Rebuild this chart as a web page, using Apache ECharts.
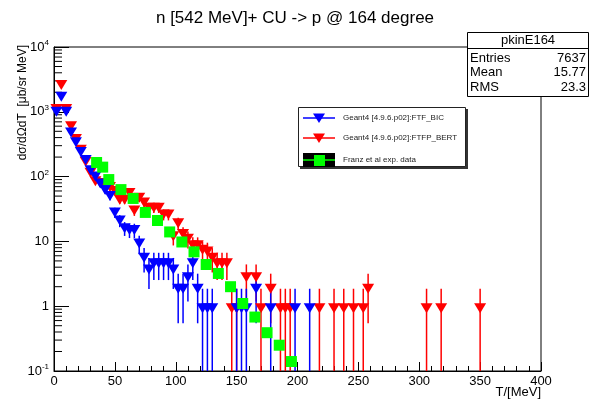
<!DOCTYPE html>
<html>
<head>
<meta charset="utf-8">
<script src="https://cdn.jsdelivr.net/npm/echarts@6/dist/echarts.min.js"></script>
<style>
  html, body { margin: 0; padding: 0; background: #fff; }
  #chart { width: 590px; height: 401px; }
</style>
</head>
<body>
<div id="chart"></div>
<script>
// Geant4 FTF_BIC, [T (MeV), dsigma/dOmega dT]
const ftfBic = [
  [2, 1000], [6, 1700], [10, 1000], [14, 480], [18, 340], [22, 240], [26, 180],
  [30, 125], [34, 100], [38, 78], [42, 62], [46, 50], [50, 28], [54, 21],
  [58, 16], [62, 15], [66, 15], [70, 9.3], [74, 5.6], [78, 3.7], [82, 4.6],
  [86, 4.6], [90, 4.6], [94, 4.6], [98, 3.7], [102, 1.86], [106, 1.86],
  [110, 2.8], [114, 4.6], [118, 1.86], [122, 0.93], [126, 0.93], [130, 0.93],
  [150, 0.93], [154, 0.93], [158, 0.93], [166, 1.86], [178, 0.93],
  [198, 0.93], [210, 0.93]
];
// Geant4 FTFP_BERT
const ftfpBert = [
  [2, 1100], [6, 2600], [10, 1100], [14, 600], [18, 380], [22, 260], [26, 170],
  [30, 115], [34, 85], [38, 80], [42, 72], [46, 69], [50, 60], [54, 44],
  [58, 44], [62, 56], [66, 30], [70, 47], [74, 40], [78, 33], [82, 33],
  [86, 33], [90, 26], [94, 26], [98, 12], [102, 19], [106, 13], [110, 11],
  [114, 8.7], [118, 8.7], [122, 7.4], [126, 7], [130, 5.6], [134, 4.6],
  [138, 4.6], [142, 4.6], [146, 0.93], [150, 0.93], [158, 2.8], [166, 2.8],
  [170, 0.93], [178, 1.86], [186, 0.93], [190, 0.93], [194, 0.93],
  [218, 0.93], [230, 0.93], [238, 0.93], [246, 0.93], [254, 0.93],
  [258, 1.86], [306, 0.93], [318, 0.93], [350, 0.93]
];
// Franz et al. experimental data
const franz = [
  [35, 165], [40, 140], [45, 90], [55, 63], [65, 46], [75, 28], [85, 21],
  [95, 14], [105, 9.8], [115, 6.9], [125, 4.4], [135, 3.2], [145, 2.0],
  [155, 1.1], [165, 0.68], [175, 0.39], [185, 0.25], [195, 0.14]
];

// weight of one histogram entry (for the statistical error bars)
const UNIT = 0.93;
const Y_MIN = 0.1, Y_MAX = 10000;
const FONT = 'Liberation Sans, Arial, sans-serif';

// 2..9 x 10^k minor ticks of the log axis
const yMinorTicks = [];
for (let k = -1; k < 4; k++) {
  for (let m = 2; m < 10; m++) yMinorTicks.push([0, m * Math.pow(10, k)]);
}

function errorBars(color) {
  return function (params, api) {
    const t = api.value(0), v = api.value(1);
    const e = Math.sqrt(v * UNIT);
    const hi = api.coord([t, v + e]);
    const lo = api.coord([t, Math.max(v - e, Y_MIN)]);
    return {
      type: 'line',
      shape: { x1: hi[0], y1: hi[1], x2: lo[0], y2: lo[1] },
      style: { stroke: color, lineWidth: 1.5 }
    };
  };
}

function minorTick(params, api) {
  const p = api.coord([api.value(0), api.value(1)]);
  return {
    type: 'line',
    shape: { x1: p[0], y1: p[1], x2: p[0] + 8, y2: p[1] },
    style: { stroke: '#000', lineWidth: 1 }
  };
}

const chartDom = document.getElementById('chart');
const myChart = echarts.init(chartDom);

const option = {
  animation: false,
  title: {
    text: 'n [542 MeV]+ CU -> p @ 164 degree',
    left: 'center',
    top: 5,
    textStyle: { fontFamily: FONT, fontSize: 17, fontWeight: 'normal', color: '#000' }
  },
  grid: {
    left: 54, right: 49, top: 47, bottom: 30,
    show: true, borderColor: '#000', borderWidth: 1
  },
  xAxis: {
    type: 'value',
    min: 0, max: 400, interval: 50,
    axisLine: { lineStyle: { color: '#000' } },
    axisTick: { inside: true, length: 9, lineStyle: { color: '#000' } },
    minorTick: { show: true, splitNumber: 5, length: 5, lineStyle: { color: '#000' } },
    splitLine: { show: false },
    axisLabel: { color: '#000', fontFamily: FONT, fontSize: 13, margin: 4 }
  },
  yAxis: {
    type: 'log', logBase: 10,
    min: Y_MIN, max: Y_MAX, interval: 1,
    axisLine: { lineStyle: { color: '#000' } },
    axisTick: { inside: true, length: 15, lineStyle: { color: '#000' } },
    splitLine: { show: false },
    axisLabel: {
      color: '#000', fontFamily: FONT, fontSize: 13, margin: 5,
      formatter: function (v) {
        const k = Math.round(Math.log10(v));
        if (k === 0) return '1';
        if (k === 1) return '10';
        return '{b|10}{s|' + k + '}';
      },
      rich: {
        b: { fontFamily: FONT, fontSize: 13, color: '#000', lineHeight: 16 },
        s: { fontFamily: FONT, fontSize: 8, color: '#000', verticalAlign: 'top', lineHeight: 16, padding: [0, 0, 6, 0] }
      }
    }
  },
  graphic: [
    // y axis title
    {
      type: 'text', x: 23, y: 45, rotation: Math.PI / 2,
      style: { text: 'dσ/dΩdT  [μb/sr MeV]', font: '12px ' + FONT, fill: '#000', align: 'right', verticalAlign: 'middle' }
    },
    // x axis title
    {
      type: 'text', x: 541, y: 392,
      style: { text: 'T/[MeV]', font: '13px ' + FONT, fill: '#000', align: 'right', verticalAlign: 'middle' }
    },
    // stats box
    {
      type: 'rect', shape: { x: 467.5, y: 32.5, width: 121, height: 64 },
      style: { fill: '#fff', stroke: '#000', lineWidth: 1 }, z: 100
    },
    {
      type: 'line', shape: { x1: 467.5, y1: 48.5, x2: 588.5, y2: 48.5 },
      style: { stroke: '#000', lineWidth: 1 }, z: 101
    },
    { type: 'text', x: 528, y: 40, z: 101, style: { text: 'pkinE164', font: '13px ' + FONT, fill: '#000', align: 'center', verticalAlign: 'middle' } },
    { type: 'text', x: 470, y: 58, z: 101, style: { text: 'Entries', font: '13px ' + FONT, fill: '#000', align: 'left', verticalAlign: 'middle' } },
    { type: 'text', x: 586, y: 58, z: 101, style: { text: '7637', font: '13px ' + FONT, fill: '#000', align: 'right', verticalAlign: 'middle' } },
    { type: 'text', x: 470, y: 72, z: 101, style: { text: 'Mean', font: '13px ' + FONT, fill: '#000', align: 'left', verticalAlign: 'middle' } },
    { type: 'text', x: 586, y: 72, z: 101, style: { text: '15.77', font: '13px ' + FONT, fill: '#000', align: 'right', verticalAlign: 'middle' } },
    { type: 'text', x: 470, y: 87, z: 101, style: { text: 'RMS', font: '13px ' + FONT, fill: '#000', align: 'left', verticalAlign: 'middle' } },
    { type: 'text', x: 586, y: 87, z: 101, style: { text: '23.3', font: '13px ' + FONT, fill: '#000', align: 'right', verticalAlign: 'middle' } },
    // legend box with shadow
    {
      type: 'rect', shape: { x: 300, y: 109, width: 168, height: 60 },
      style: { fill: '#333' }, z: 100
    },
    {
      type: 'rect', shape: { x: 298.5, y: 107.5, width: 167, height: 59 },
      style: { fill: '#fff', stroke: '#222', lineWidth: 1 }, z: 101
    },
    // FTF_BIC entry
    { type: 'line', shape: { x1: 303, y1: 118, x2: 335, y2: 118 }, style: { stroke: '#0000ff', lineWidth: 1.5 }, z: 102 },
    { type: 'polygon', shape: { points: [[313, 113.5], [325, 113.5], [319, 123]] }, style: { fill: '#0000ff' }, z: 102 },
    { type: 'text', x: 343, y: 118, z: 102, style: { text: 'Geant4 [4.9.6.p02]:FTF_BIC', font: '8px ' + FONT, fill: '#222', align: 'left', verticalAlign: 'middle' } },
    // FTFP_BERT entry
    { type: 'line', shape: { x1: 303, y1: 138, x2: 335, y2: 138 }, style: { stroke: '#ff0000', lineWidth: 1.5 }, z: 102 },
    { type: 'polygon', shape: { points: [[313, 133.5], [325, 133.5], [319, 143]] }, style: { fill: '#ff0000' }, z: 102 },
    { type: 'text', x: 343, y: 138, z: 102, style: { text: 'Geant4 [4.9.6.p02]:FTFP_BERT', font: '8px ' + FONT, fill: '#222', align: 'left', verticalAlign: 'middle' } },
    // Franz entry
    { type: 'rect', shape: { x: 303, y: 153, width: 32, height: 14 }, style: { fill: '#000' }, z: 102 },
    { type: 'line', shape: { x1: 303, y1: 160, x2: 335, y2: 160 }, style: { stroke: '#00ff00', lineWidth: 1.5 }, z: 103 },
    { type: 'rect', shape: { x: 314, y: 155, width: 11, height: 11 }, style: { fill: '#00ff00' }, z: 103 },
    { type: 'text', x: 343, y: 160, z: 102, style: { text: 'Franz et al exp. data', font: '8px ' + FONT, fill: '#222', align: 'left', verticalAlign: 'middle' } }
  ],
  series: [
    {
      name: 'yMinor', type: 'custom', renderItem: minorTick,
      data: yMinorTicks, encode: { x: 0, y: 1 }, silent: true, clip: false
    },
    {
      name: 'FTFP_BERT err', type: 'custom', renderItem: errorBars('#ff0000'),
      data: ftfpBert, encode: { x: 0, y: 1 }, clip: true
    },
    {
      name: 'Geant4 [4.9.6.p02]:FTFP_BERT', type: 'scatter', data: ftfpBert,
      symbol: 'triangle', symbolRotate: 180, symbolSize: [12, 10],
      itemStyle: { color: '#ff0000', opacity: 1 }, clip: false
    },
    {
      name: 'FTF_BIC err', type: 'custom', renderItem: errorBars('#0000ff'),
      data: ftfBic, encode: { x: 0, y: 1 }, clip: true
    },
    {
      name: 'Geant4 [4.9.6.p02]:FTF_BIC', type: 'scatter', data: ftfBic,
      symbol: 'triangle', symbolRotate: 180, symbolSize: [12, 10],
      itemStyle: { color: '#0000ff', opacity: 1 }, clip: false
    },
    {
      name: 'Franz et al exp. data', type: 'scatter', data: franz,
      symbol: 'rect', symbolSize: 11,
      itemStyle: { color: '#00ff00', opacity: 1 }, clip: false
    }
  ]
};

option && myChart.setOption(option);
</script>
</body>
</html>
